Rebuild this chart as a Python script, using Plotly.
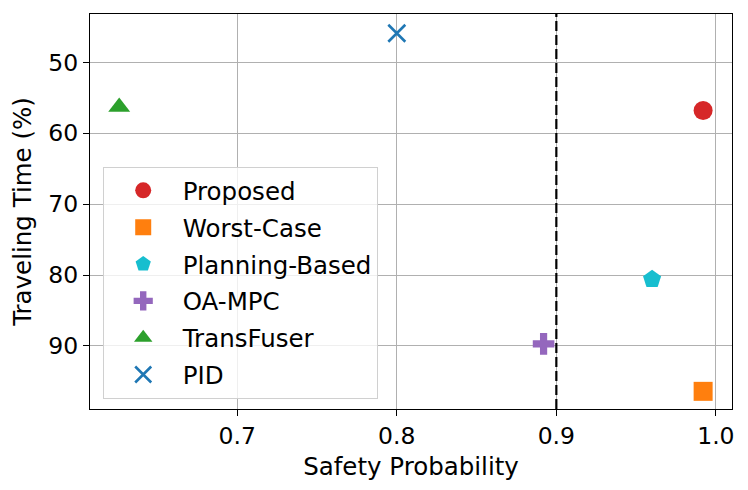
import plotly.graph_objects as go

methods = ["Proposed", "Worst-Case", "Planning-Based", "OA-MPC", "TransFuser", "PID"]
safety = [0.992, 0.992, 0.960, 0.892, 0.626, 0.800]
travel_time = [56.8, 96.4, 80.6, 89.7, 56.3, 45.9]
colors = ["#d62728", "#ff7f0e", "#17becf", "#9467bd", "#2ca02c", "#1f77b4"]
symbols = ["circle", "square", "pentagon", "cross", "triangle-up", "x-thin"]
threshold = 0.9

x_ticks = [0.7, 0.8, 0.9, 1.0]
x_ticklabels = ["0.7", "0.8", "0.9", "1.0"]
y_ticks = [50, 60, 70, 80, 90]

fig = go.Figure()
for m, sx, ty, c, s in zip(methods, safety, travel_time, colors, symbols):
    if s == "x-thin":
        marker = dict(color=c, symbol=s, size=17, line=dict(color=c, width=2.6))
    elif s == "cross":
        marker = dict(color=c, symbol=s, size=18, line=dict(width=0))
    else:
        marker = dict(color=c, symbol=s, size=19, line=dict(width=0))
    fig.add_trace(go.Scatter(x=[sx], y=[ty], mode="markers", name=m,
                             legendgroup=m, marker=marker))

fig.add_vline(x=threshold, line=dict(color="black", width=2.2, dash="10px,4px"))

tick_font = dict(family="DejaVu Sans", size=23.5, color="black")
label_font = dict(family="DejaVu Sans", size=24.5, color="black")
fig.update_layout(
    width=748, height=490,
    margin=dict(l=82, r=24, t=6, b=89),
    paper_bgcolor="white", plot_bgcolor="white",
    font=label_font,
    showlegend=True,
    legend=dict(x=0.0198, y=0.613, xanchor="left", yanchor="top",
                bgcolor="rgba(255,255,255,0.8)", bordercolor="#d0d0d0", borderwidth=1,
                font=dict(family="DejaVu Sans", size=24.5, color="black"),
                itemsizing="trace", itemwidth=69, tracegroupgap=2),
)
fig.update_xaxes(
    range=[0.6077, 1.0101], tickvals=x_ticks, ticktext=x_ticklabels,
    showgrid=True, gridcolor="#b0b0b0", gridwidth=1,
    showline=True, linecolor="black", linewidth=1.3, mirror=True,
    ticks="outside", ticklen=6, tickcolor="black", tickfont=tick_font,
    title=dict(text="Safety Probability", font=label_font, standoff=8),
    zeroline=False,
)
fig.update_yaxes(
    range=[98.89, 43.19], tickvals=y_ticks,
    showgrid=True, gridcolor="#b0b0b0", gridwidth=1,
    showline=True, linecolor="black", linewidth=1.3, mirror=True,
    ticks="outside", ticklen=6, tickcolor="black", tickfont=tick_font,
    title=dict(text="Traveling Time (%)", font=label_font, standoff=10),
    zeroline=False,
)
fig.write_html("out.html")
